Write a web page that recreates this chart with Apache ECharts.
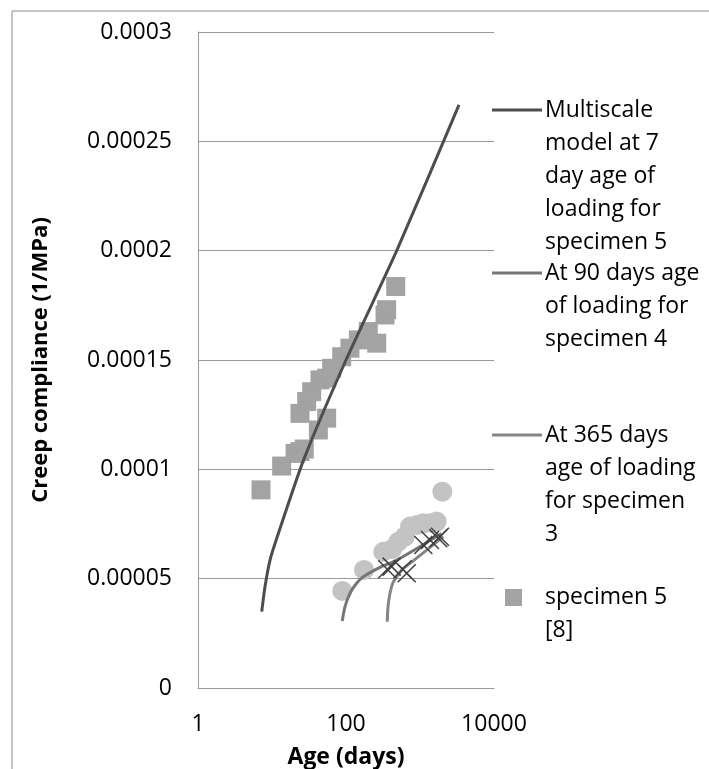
<!DOCTYPE html>
<html>
<head>
<meta charset="utf-8">
<script src="https://cdn.jsdelivr.net/npm/echarts@6/dist/echarts.min.js"></script>
<style>
    html, body { margin: 0; padding: 0; background: #fff; }
    #chart { width: 709px; height: 769px; }
</style>
</head>
<body>
<div id="chart"></div>
<script>
'use strict';

// model curves: [age (days), creep compliance (1/MPa)]
var model7Day = [
    [7.26, 3.49e-5], [8.04, 4.63e-5], [9.4, 5.85e-5], [11.6, 6.85e-5],
    [26.5, 1.04e-4], [100, 1.50e-4], [485, 2.0e-4], [3365, 2.667e-4]
];
var model90Day = [
    [89, 3.06e-5], [97, 3.72e-5], [113, 4.33e-5], [139, 4.79e-5], [171, 5.09e-5],
    [288, 5.52e-5], [485, 5.85e-5], [1950, 7.07e-5]
];
var model365Day = [
    [361, 3.03e-5], [370, 3.72e-5], [393, 4.33e-5], [428, 4.79e-5], [485, 5.09e-5],
    [595, 5.47e-5], [733, 5.7e-5], [2065, 6.92e-5]
];

// measured data
var specimen5 = [
    [7.1, 9.06e-5], [13.5, 1.015e-4], [20.5, 1.073e-4], [23.9, 1.081e-4], [27.3, 1.093e-4],
    [42.3, 1.18e-4], [54.8, 1.234e-4], [23.9, 1.256e-4], [29.4, 1.31e-4], [34.4, 1.355e-4],
    [44.5, 1.409e-4], [54.8, 1.417e-4], [64, 1.462e-4], [87.5, 1.515e-4], [113, 1.554e-4],
    [147, 1.592e-4], [200, 1.63e-4], [260, 1.577e-4], [337, 1.706e-4], [354, 1.73e-4],
    [470, 1.836e-4]
];
var specimen4 = [
    [89, 4.44e-5], [175, 5.4e-5], [319, 6.23e-5], [420, 6.35e-5], [509, 6.69e-5],
    [623, 6.92e-5], [733, 7.38e-5], [900, 7.45e-5], [1109, 7.53e-5], [1450, 7.55e-5],
    [1680, 7.61e-5], [2004, 8.98e-5]
];
var specimen3 = [
    [361, 5.43e-5], [414, 5.55e-5], [583, 5.43e-5], [661, 5.25e-5], [1109, 6.54e-5],
    [1365, 6.77e-5], [1766, 6.85e-5], [1860, 6.92e-5]
];

var xTickLabels = [1, 100, 10000];
var legendNames = [
    'Multiscale\nmodel at 7\nday age of\nloading for\nspecimen 5',
    'At 90 days age\nof loading for\nspecimen 4',
    'At 365 days\nage of loading\nfor specimen\n3',
    'specimen 5\n[8]'
];

var FONT = '"Open Sans", sans-serif';
var GRID_COLOR = '#9a9a9a';

function legendText(x, y, text) {
    return {
        type: 'text',
        left: x,
        top: y,
        style: {
            text: text,
            font: '23px ' + FONT,
            lineHeight: 33,
            fill: '#000'
        }
    };
}

function legendLine(y, color) {
    return {
        type: 'line',
        shape: { x1: 492, y1: y, x2: 542, y2: y },
        style: { stroke: color, lineWidth: 3 }
    };
}

var chart = echarts.init(document.getElementById('chart'));

var option = {
    animation: false,
    backgroundColor: '#fff',
    grid: {
        left: 198, top: 32, right: 215, bottom: 81,
        containLabel: false,
        outerBoundsMode: 'none'
    },
    xAxis: {
        type: 'log',
        logBase: 10,
        min: 1,
        max: 10000,
        name: 'Age (days)',
        nameLocation: 'middle',
        nameGap: 58,
        nameTextStyle: { fontFamily: FONT, fontSize: 23, fontWeight: 'bold', color: '#000' },
        axisLine: { lineStyle: { color: GRID_COLOR, width: 1 } },
        axisTick: { show: false },
        splitLine: { show: false },
        axisLabel: {
            margin: 25,
            fontFamily: FONT,
            fontSize: 23,
            color: '#000',
            formatter: function(v) {
                return xTickLabels.indexOf(Math.round(v)) >= 0 ? String(Math.round(v)) : '';
            }
        }
    },
    yAxis: {
        type: 'value',
        min: 0,
        max: 0.0003,
        interval: 0.00005,
        name: 'Creep compliance (1/MPa)',
        nameLocation: 'middle',
        nameRotate: 90,
        nameGap: 146,
        nameTextStyle: { fontFamily: FONT, fontSize: 22, fontWeight: 'bold', color: '#000' },
        axisLine: { show: true, lineStyle: { color: GRID_COLOR, width: 1 } },
        axisTick: { show: false },
        splitLine: { lineStyle: { color: GRID_COLOR, width: 1 } },
        axisLabel: {
            margin: 26,
            fontFamily: FONT,
            fontSize: 23,
            color: '#000',
            formatter: function(v) {
                return String(parseFloat(v.toFixed(6)));
            }
        }
    },
    series: [{
        name: 'specimen 5 [8]',
        type: 'scatter',
        symbol: 'rect',
        symbolSize: 19,
        itemStyle: { color: '#a3a3a3', opacity: 1 },
        data: specimen5
    }, {
        name: 'specimen 4',
        type: 'scatter',
        symbol: 'circle',
        symbolSize: 20,
        itemStyle: { color: '#c3c3c3', opacity: 1 },
        data: specimen4
    }, {
        name: 'Multiscale model at 7 day age of loading for specimen 5',
        type: 'line',
        showSymbol: false,
        smooth: 0.2,
        lineStyle: { color: '#4d4d4d', width: 3 },
        data: model7Day,
        z: 3
    }, {
        name: 'At 90 days age of loading for specimen 4',
        type: 'line',
        showSymbol: false,
        smooth: 0.3,
        lineStyle: { color: '#767676', width: 3 },
        data: model90Day,
        z: 3
    }, {
        name: 'At 365 days age of loading for specimen 3',
        type: 'line',
        showSymbol: false,
        smooth: 0.3,
        lineStyle: { color: '#858585', width: 3 },
        data: model365Day,
        z: 3
    }, {
        name: 'specimen 3',
        type: 'scatter',
        symbol: 'path://M0,0L10,10M10,0L0,10',
        symbolSize: 18,
        itemStyle: { color: 'rgba(0,0,0,0)', borderColor: '#3f3f3f', borderWidth: 1.5, opacity: 1 },
        data: specimen3,
        z: 4
    }],
    graphic: [
        {
            type: 'rect',
            shape: { x: 12, y: 11, width: 800, height: 800 },
            style: { fill: 'none', stroke: '#8c8c8c', lineWidth: 1 },
            z: -1
        },
        legendLine(110, '#4d4d4d'),
        legendText(545, 93.5, legendNames[0]),
        legendLine(273, '#767676'),
        legendText(545, 256.5, legendNames[1]),
        legendLine(435, '#858585'),
        legendText(545, 418.5, legendNames[2]),
        {
            type: 'rect',
            shape: { x: 505, y: 589, width: 17, height: 17 },
            style: { fill: '#a3a3a3' }
        },
        legendText(545, 580.5, legendNames[3])
    ]
};

chart.setOption(option);
</script>
</body>
</html>
